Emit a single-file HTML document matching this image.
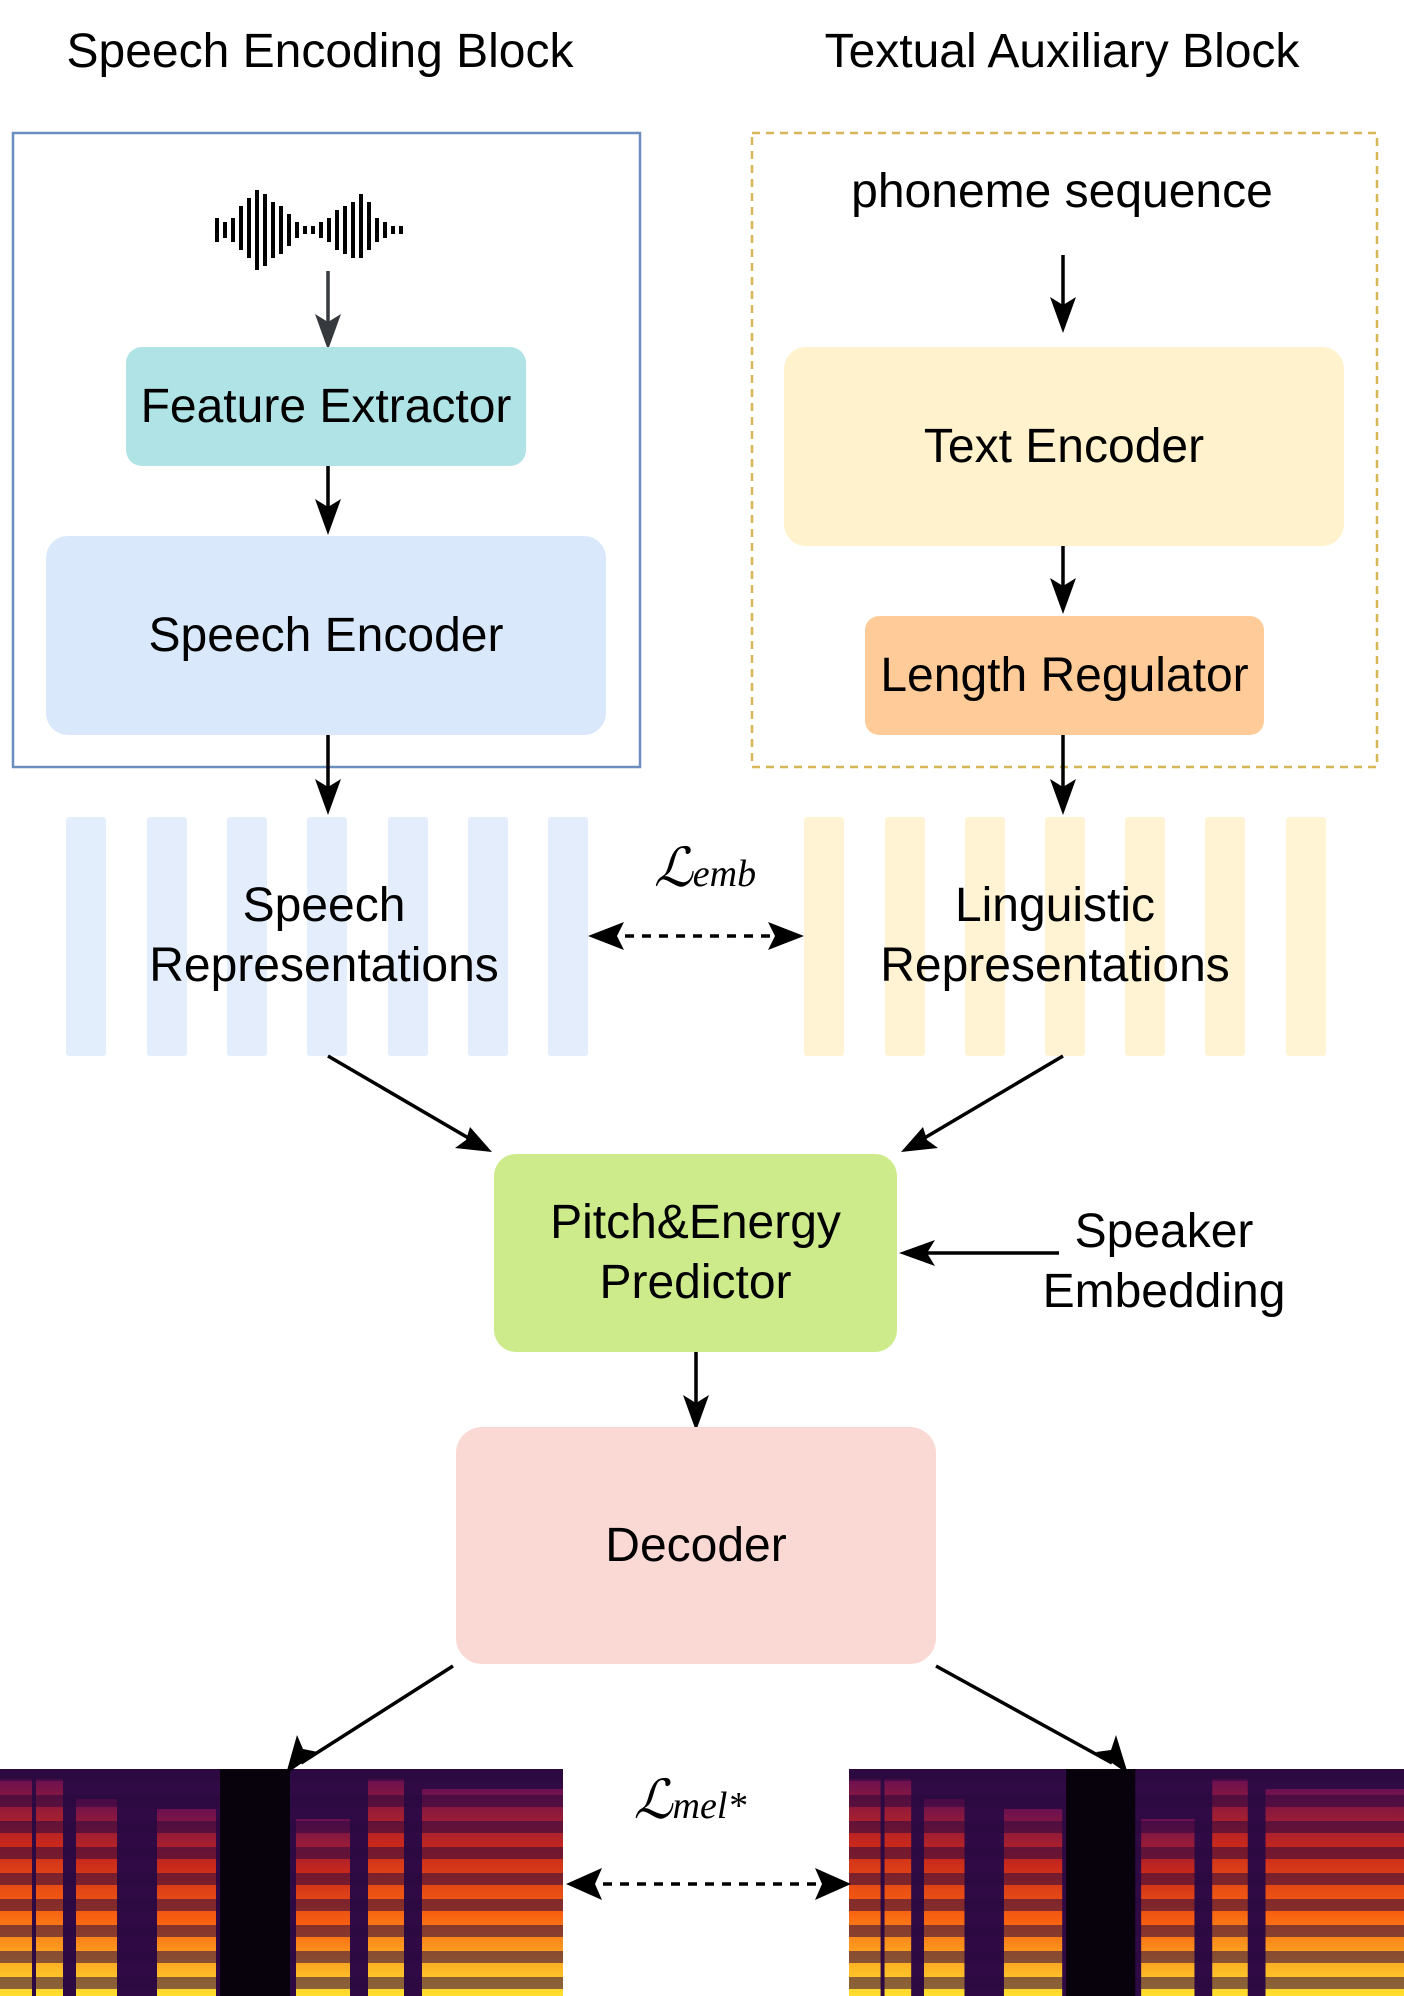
<!DOCTYPE html>
<html><head><meta charset="utf-8"><style>
html,body{margin:0;padding:0;background:#fff}
body{width:1404px;height:1996px;position:relative;overflow:hidden;font-family:"Liberation Sans",sans-serif;color:#000}
.t{position:absolute;text-align:center;white-space:nowrap;font-size:48px;line-height:60px}
.b{position:absolute;border-radius:22px;display:flex;align-items:center;justify-content:center;text-align:center;font-size:48px;line-height:60px}
svg{position:absolute;left:0;top:0}
</style></head><body>
<svg width="1404" height="1996" viewBox="0 0 1404 1996">
<defs>
<linearGradient id="sg" x1="0" y1="0" x2="0" y2="1">
<stop offset="0" stop-color="#6a1050"/><stop offset="0.3" stop-color="#c8281c"/><stop offset="0.6" stop-color="#f86010"/><stop offset="1" stop-color="#ffe030"/>
</linearGradient>
<pattern id="st" width="20" height="26" patternUnits="userSpaceOnUse">
<rect width="20" height="12" fill="#2a0840" opacity="0.55"/>
</pattern>
<g id="spec">
<rect x="0" y="0" width="563" height="227" fill="#1c0630"/>
<rect x="0" y="0" width="563" height="227" fill="#4a1060" opacity="0.45"/>
<g fill="url(#sg)">
<rect x="0" y="10" width="32" height="217"/><rect x="36" y="10" width="27" height="217"/>
<rect x="76" y="30" width="41" height="197"/><rect x="157" y="40" width="59" height="187"/>
<rect x="296" y="50" width="54" height="177"/><rect x="368" y="10" width="36" height="217"/>
<rect x="422" y="20" width="141" height="207"/>
</g>
<rect x="0" y="0" width="563" height="227" fill="url(#st)"/>
<rect x="220" y="0" width="70" height="227" fill="#07020c"/>
</g>
</defs>
<rect x="13" y="133" width="627" height="634" fill="none" stroke="#6c8ebf" stroke-width="2.5"/>
<rect x="752" y="133" width="625" height="634" fill="none" stroke="#d6b656" stroke-width="2.5" stroke-dasharray="8,6"/>
<g fill="#000">
<rect x="215" y="218" width="4" height="24"/><rect x="223" y="222" width="4" height="16"/><rect x="231" y="218" width="4" height="24"/>
<rect x="239" y="206" width="4" height="44"/><rect x="247" y="198" width="4" height="60"/><rect x="255" y="190" width="4" height="80"/>
<rect x="263" y="194" width="4" height="72"/><rect x="271" y="202" width="4" height="56"/><rect x="279" y="206" width="4" height="48"/>
<rect x="287" y="214" width="4" height="32"/><rect x="295" y="222" width="4" height="16"/><rect x="303" y="226" width="4" height="8"/>
<rect x="311" y="226" width="4" height="8"/><rect x="319" y="222" width="4" height="16"/><rect x="327" y="218" width="4" height="24"/>
<rect x="335" y="210" width="4" height="40"/><rect x="343" y="206" width="4" height="48"/><rect x="351" y="202" width="4" height="56"/>
<rect x="359" y="194" width="4" height="64"/><rect x="367" y="202" width="4" height="48"/><rect x="375" y="218" width="4" height="24"/>
<rect x="383" y="222" width="4" height="16"/><rect x="391" y="226" width="4" height="8"/><rect x="399" y="226" width="4" height="8"/>
</g>
<g fill="#dae8fc" opacity="0.75">
<rect x="66" y="817" width="40" height="239" rx="3"/><rect x="147" y="817" width="40" height="239" rx="3"/><rect x="227" y="817" width="40" height="239" rx="3"/><rect x="307" y="817" width="40" height="239" rx="3"/><rect x="388" y="817" width="40" height="239" rx="3"/><rect x="468" y="817" width="40" height="239" rx="3"/><rect x="548" y="817" width="40" height="239" rx="3"/>
</g>
<g fill="#fff2cc" opacity="0.85">
<rect x="804" y="817" width="40" height="239" rx="3"/><rect x="885" y="817" width="40" height="239" rx="3"/><rect x="965" y="817" width="40" height="239" rx="3"/><rect x="1045" y="817" width="40" height="239" rx="3"/><rect x="1125" y="817" width="40" height="239" rx="3"/><rect x="1205" y="817" width="40" height="239" rx="3"/><rect x="1286" y="817" width="40" height="239" rx="3"/>
</g>
<use href="#spec" x="0" y="1769"/>
<use href="#spec" x="849" y="1769" transform="translate(849 1769) scale(0.987 1) translate(-849 -1769)"/>
<g stroke="#000" stroke-width="3.5" fill="none">
<line x1="328" y1="271" x2="328" y2="330" stroke="#36393d"/>
<line x1="328" y1="466" x2="328" y2="520"/>
<line x1="328" y1="735" x2="328" y2="798"/>
<line x1="1063" y1="255" x2="1063" y2="316"/>
<line x1="1063" y1="546" x2="1063" y2="597"/>
<line x1="1063" y1="735" x2="1063" y2="798"/>
<line x1="328" y1="1056" x2="477" y2="1143"/>
<line x1="1063" y1="1056" x2="916" y2="1143"/>
<line x1="1059" y1="1253" x2="918" y2="1253"/>
<line x1="696" y1="1344" x2="696" y2="1412"/>
<line x1="453" y1="1666" x2="301" y2="1763"/>
<line x1="936" y1="1666" x2="1112" y2="1763"/>
<line x1="608" y1="936" x2="784" y2="936" stroke-dasharray="9,8"/>
<line x1="586" y1="1884" x2="831" y2="1884" stroke-dasharray="9,8"/>
</g>
<g fill="#000">
<polygon points="328,350 315,314 328,322 341,314" fill="#36393d"/>
<polygon points="328,535 315,499 328,507 341,499"/>
<polygon points="328,815 315,779 328,787 341,779"/>
<polygon points="1063,333 1050,297 1063,305 1076,297"/>
<polygon points="1063,614 1050,578 1063,586 1076,578"/>
<polygon points="1063,815 1050,779 1063,787 1076,779"/>
<polygon points="696,1431 683,1395 696,1403 709,1395"/>
<polygon points="899,1253 935,1240 927,1253 935,1266"/>
<polygon points="588,936 624,922 617,936 624,950"/>
<polygon points="804,936 768,922 775,936 768,950"/>
<polygon points="566,1884 602,1868 595,1884 602,1900"/>
<polygon points="851,1884 815,1868 822,1884 815,1900"/>
<polygon points="492,1152 455,1148 466,1140 470,1127"/>
<polygon points="901,1152 923,1127 927,1140 938,1148"/>
<polygon points="286,1774 297,1735 303,1749 318,1752"/>
<polygon points="1128,1774 1096,1752 1111,1750 1116,1735"/>
</g>
</svg>
<div class="t" style="left:0;width:640px;top:22px">Speech Encoding Block</div>
<div class="t" style="left:752px;width:620px;top:22px">Textual Auxiliary Block</div>
<div class="t" style="left:752px;width:620px;top:162px">phoneme sequence</div>
<div class="b" style="left:126px;top:347px;width:400px;height:119px;background:#b0e3e6;border-radius:16px">Feature Extractor</div>
<div class="b" style="left:46px;top:536px;width:560px;height:199px;background:#dae8fc">Speech Encoder</div>
<div class="b" style="left:784px;top:347px;width:560px;height:199px;background:#fff2cc">Text Encoder</div>
<div class="b" style="left:865px;top:616px;width:399px;height:119px;background:#ffcc99;border-radius:14px">Length Regulator</div>
<div class="t" style="left:24px;width:600px;top:876px">Speech<br>Representations</div>
<div class="t" style="left:755px;width:600px;top:876px">Linguistic<br>Representations</div>
<div class="t" style="left:620px;width:170px;top:838px;font-family:'Liberation Serif',serif;font-style:italic;font-size:54px">ℒ<span style="font-size:38px">emb</span></div>
<div class="t" style="left:600px;width:180px;top:1770px;font-family:'Liberation Serif',serif;font-style:italic;font-size:54px">ℒ<span style="font-size:38px">mel*</span></div>
<div class="b" style="left:494px;top:1154px;width:403px;height:198px;background:#cdeb8b">Pitch&amp;Energy<br>Predictor</div>
<div class="t" style="left:1014px;width:300px;top:1202px">Speaker<br>Embedding</div>
<div class="b" style="left:456px;top:1427px;width:480px;height:237px;background:#fad9d5;border-radius:26px">Decoder</div>
</body></html>
